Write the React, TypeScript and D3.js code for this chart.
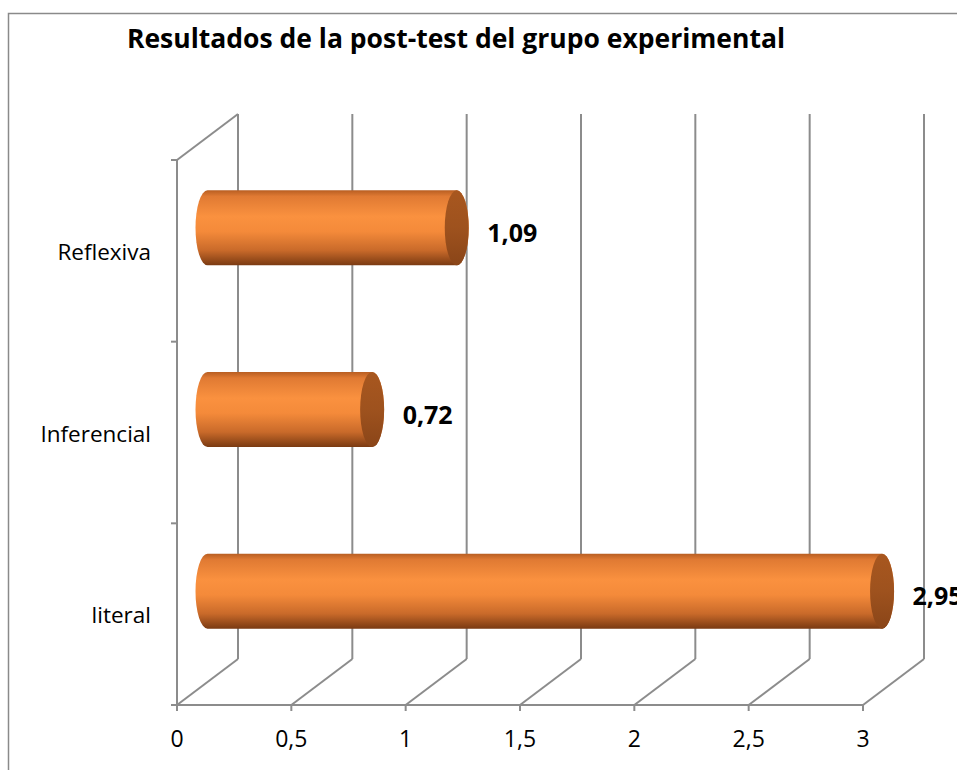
import * as d3 from 'd3';

const categories = ['Reflexiva', 'Inferencial', 'literal'];
const values = [1.09, 0.72, 2.95];
const valueLabels = ['1,09', '0,72', '2,95'];
const ticks = [0, 0.5, 1, 1.5, 2, 2.5, 3];
const tickLabels = ['0', '0,5', '1', '1,5', '2', '2,5', '3'];

const font = '"Open Sans", Lato, sans-serif';
const gridColor = '#8c8c8c';

const App = () => {
    const width = 957, height = 770;
    // 3d depth offset of the back wall
    const dx = 61, dy = -46;

    const x = d3.scaleLinear().domain([0, 3]).range([177, 863]);
    const y = d3.scaleBand().domain(categories).range([160, 705]).padding(0);
    const bw = y.bandwidth();
    const yTop = 160, yBot = 705;

    const ry = 37.5, rx = 12;
    const boundaries = [...categories.map((c) => y(c)), yBot];

    return (
        <svg width={width} height={height} style={{ position: 'absolute', left: 0, top: 0, background: '#fff' }}>
            <defs>
                <linearGradient id="body" x1="0" y1="0" x2="0" y2="1">
                    <stop offset="0%" stopColor="#b85e22" />
                    <stop offset="8%" stopColor="#e07a33" />
                    <stop offset="35%" stopColor="#fa913f" />
                    <stop offset="55%" stopColor="#f48a3a" />
                    <stop offset="80%" stopColor="#c96a2a" />
                    <stop offset="100%" stopColor="#7a3a12" />
                </linearGradient>
                <linearGradient id="cap" x1="0" y1="0" x2="0" y2="1">
                    <stop offset="0%" stopColor="#a8571f" />
                    <stop offset="50%" stopColor="#9e521e" />
                    <stop offset="100%" stopColor="#8a4518" />
                </linearGradient>
            </defs>

            <rect x={8.5} y={13.5} width={width} height={height} fill="none" stroke="#8a8a8a" strokeWidth={1.5} />

            <text x={456} y={48} textAnchor="middle" fontFamily={font} fontWeight="bold" fontSize={26.5} fill="#000">
                Resultados de la post-test del grupo experimental
            </text>

            {/* back wall and floor */}
            {ticks.map((t, i) => (
                <g key={i} stroke={gridColor} strokeWidth={2} fill="none">
                    <line x1={x(t) + dx} y1={yTop + dy} x2={x(t) + dx} y2={yBot + dy} />
                    <line x1={x(t)} y1={yBot} x2={x(t) + dx} y2={yBot + dy} />
                    <line x1={x(t)} y1={yBot} x2={x(t)} y2={yBot + 6} />
                </g>
            ))}

            {/* side wall */}
            <g stroke={gridColor} strokeWidth={2} fill="none">
                <line x1={x(0)} y1={yTop} x2={x(0)} y2={yBot} />
                <line x1={x(0)} y1={yTop} x2={x(0) + dx} y2={yTop + dy} />
                <line x1={x(0) - 6} y1={yBot} x2={x(3)} y2={yBot} />
                {boundaries.map((b, i) => (
                    <line key={i} x1={x(0) - 6} y1={b} x2={x(0)} y2={b} />
                ))}
            </g>

            {tickLabels.map((l, i) => (
                <text key={i} x={x(ticks[i])} y={747} textAnchor="middle" fontFamily={font} fontSize={23} fill="#000">{l}</text>
            ))}

            {categories.map((c, i) => (
                <text key={c} x={151} y={y(c) + bw / 2 + 9} textAnchor="end" fontFamily={font} fontSize={22.5} fill="#000">{c}</text>
            ))}

            {/* cylinders */}
            {categories.map((c, i) => {
                const cy = y(c) + bw / 2 + dy / 2;
                const x0 = x(0) + dx / 2;
                const x1 = x(values[i]) + dx / 2;
                const d = `M${x0},${cy - ry} L${x1},${cy - ry} A${rx},${ry} 0 0 1 ${x1},${cy + ry} L${x0},${cy + ry} A${rx},${ry} 0 0 1 ${x0},${cy - ry} Z`;
                return (
                    <g key={c}>
                        <path d={d} fill="url(#body)" />
                        <ellipse cx={x1} cy={cy} rx={rx} ry={ry} fill="url(#cap)" />
                        <text x={x(values[i]) + dx} y={cy + 14} fontFamily={font} fontWeight="bold" fontSize={25} fill="#000">{valueLabels[i]}</text>
                    </g>
                );
            })}
        </svg>
    );
};

export default App;
